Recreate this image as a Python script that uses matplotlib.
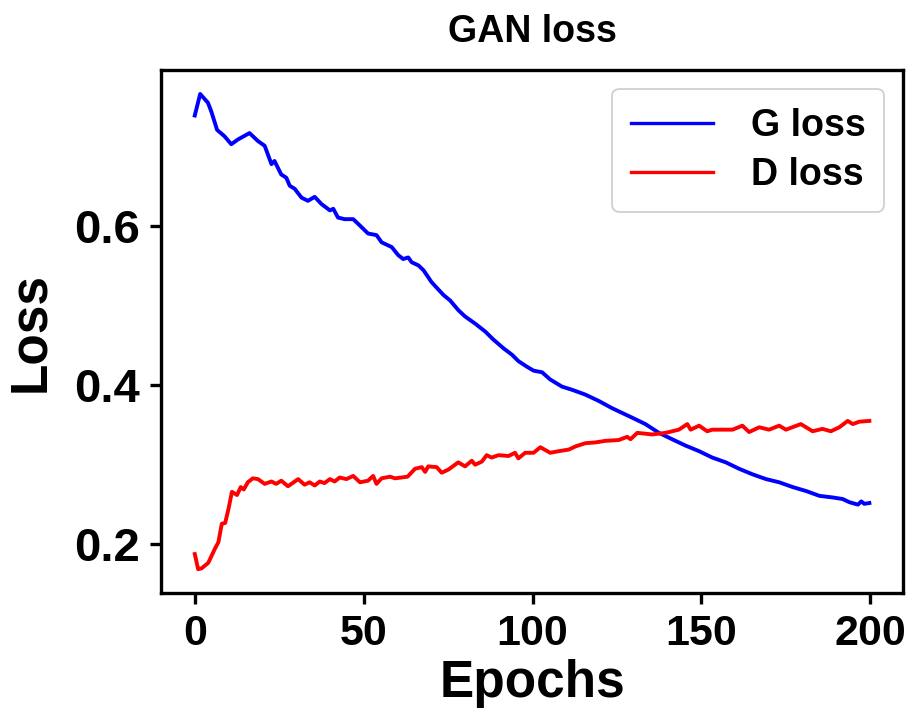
import matplotlib
matplotlib.use("Agg")
import matplotlib.pyplot as plt

g_epochs = [0, 1.6, 3.9, 4.9, 6.6, 8.8, 10.8, 12.8, 16.2, 18.7, 20.7, 22.7, 23.6, 25.6, 27.1, 28.1,
            29.6, 31.6, 33.5, 35.5, 37.5, 40, 41, 42.4, 44.4, 46.9, 48.4, 51.3, 53.8, 55.3, 58.3,
            60.2, 61.7, 63.2, 64.2, 66.2, 67.7, 70.1, 73.6, 75.6, 78, 80, 83, 86, 88.4, 91.4, 93.9,
            95.8, 98.3, 100.3, 102.8, 105.2, 108.7, 111.7, 115.6, 119.6, 123.5, 125.5, 129.5, 133.4,
            137.4, 141.3, 145.3, 149.3, 153.2, 157.2, 161.1, 165.1, 169.1, 173, 177, 181, 184.9,
            188.8, 191.8, 193.8, 196.3, 197.3, 198.2, 199.7]
g_loss = [0.738, 0.765, 0.754, 0.743, 0.720, 0.712, 0.702, 0.708, 0.716, 0.706, 0.700, 0.677, 0.681,
          0.664, 0.660, 0.650, 0.646, 0.635, 0.631, 0.636, 0.627, 0.619, 0.621, 0.610, 0.608, 0.608,
          0.602, 0.590, 0.588, 0.579, 0.573, 0.563, 0.558, 0.560, 0.554, 0.550, 0.544, 0.529, 0.513,
          0.506, 0.494, 0.486, 0.477, 0.467, 0.457, 0.446, 0.438, 0.430, 0.423, 0.418, 0.416, 0.407,
          0.398, 0.394, 0.388, 0.380, 0.371, 0.367, 0.359, 0.351, 0.340, 0.332, 0.324, 0.317, 0.309,
          0.303, 0.295, 0.288, 0.282, 0.278, 0.272, 0.267, 0.261, 0.259, 0.257, 0.253, 0.250, 0.254,
          0.251, 0.252]

d_epochs = [0, 1, 2, 4, 6, 7, 8, 9, 10, 11, 12.5, 13.6, 14.5, 15.7, 17.2, 18.7, 20.7, 22.7, 24.1,
            25.6, 27.6, 30.6, 32.5, 34, 35.5, 37, 38.4, 40, 41.4, 42.9, 44.9, 46.9, 48.9, 51.3, 52.8,
            53.8, 55.3, 57.8, 59.3, 63, 65.2, 67.2, 68.2, 69.1, 71.6, 73.1, 75.1, 78, 80, 82, 83, 85,
            86.4, 87.9, 89.9, 92.9, 94.8, 95.8, 97.8, 100.3, 102.3, 105.2, 107.7, 110.7, 112.7, 115.6,
            118.6, 121.6, 125.5, 128, 129, 131, 135.4, 139.4, 143.3, 145.8, 146.8, 149.3, 151.7, 153.2,
            159.2, 162.1, 164.1, 167.1, 170, 173, 175, 179.4, 182.9, 185.8, 188.3, 190.8, 193.3, 194.8,
            196.7, 199.7]
d_loss = [0.188, 0.169, 0.170, 0.177, 0.195, 0.203, 0.226, 0.227, 0.245, 0.266, 0.262, 0.272, 0.269,
          0.278, 0.283, 0.282, 0.276, 0.279, 0.276, 0.280, 0.273, 0.282, 0.275, 0.278, 0.274, 0.279,
          0.277, 0.282, 0.279, 0.284, 0.282, 0.286, 0.278, 0.280, 0.286, 0.276, 0.283, 0.285, 0.283,
          0.285, 0.295, 0.297, 0.291, 0.298, 0.297, 0.290, 0.294, 0.303, 0.298, 0.305, 0.300, 0.304,
          0.312, 0.309, 0.312, 0.311, 0.315, 0.308, 0.315, 0.315, 0.322, 0.315, 0.317, 0.319, 0.323,
          0.327, 0.328, 0.330, 0.331, 0.335, 0.332, 0.340, 0.338, 0.340, 0.344, 0.351, 0.344, 0.349,
          0.342, 0.344, 0.344, 0.349, 0.341, 0.347, 0.344, 0.349, 0.344, 0.351, 0.342, 0.345, 0.342,
          0.347, 0.355, 0.351, 0.354, 0.355]

series_labels = ["G loss", "D loss"]
title = "GAN loss"
x_label = "Epochs"
y_label = "Loss"
x_ticks = [0, 50, 100, 150, 200]
y_ticks = [0.2, 0.4, 0.6]

plt.rcParams['font.family'] = ['Liberation Sans', 'DejaVu Sans']
plt.rcParams['font.weight'] = 'bold'

fig = plt.figure(figsize=(9.15, 7.24), dpi=100)
ax = fig.add_axes([0.176, 0.181, 0.811, 0.722])

ax.plot(g_epochs, g_loss, color='blue', lw=2.8, label=series_labels[0])
ax.plot(d_epochs, d_loss, color='red', lw=2.8, label=series_labels[1])

ax.set_xticks(x_ticks)
ax.set_yticks(y_ticks)
ax.set_yticklabels([f"{v:.1f}" for v in y_ticks], fontsize=34, fontweight='bold')
ax.set_xticklabels([str(v) for v in x_ticks], fontsize=31, fontweight='bold')
ax.tick_params(axis='both', length=8, width=2.4, pad=7)

for s in ax.spines.values():
    s.set_linewidth(2.4)

ax.set_title(title, fontsize=27, fontweight='bold', pad=20)
ax.set_xlabel(x_label, fontsize=37, fontweight='bold', labelpad=4)
ax.set_ylabel(y_label, fontsize=37, fontweight='bold', labelpad=14)

leg = ax.legend(loc='upper right', prop={'size': 27, 'weight': 'bold'},
                handlelength=2.2, handletextpad=1.0, labelspacing=0.35,
                borderpad=0.5, fancybox=True, framealpha=1.0)
leg.get_frame().set_edgecolor('#cccccc')
leg.get_frame().set_linewidth(1.2)
for line in leg.get_lines():
    line.set_linewidth(2.4)

fig.savefig("out.png", dpi=100)
